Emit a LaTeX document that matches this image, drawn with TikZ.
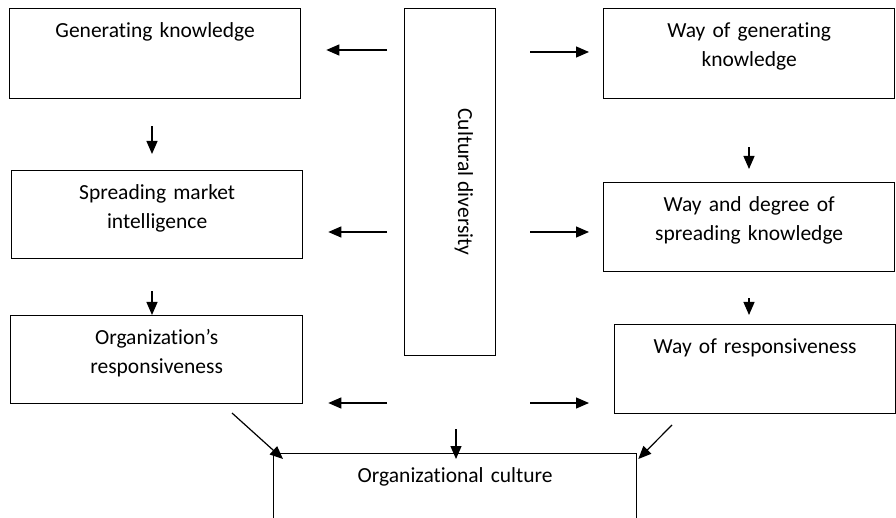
\documentclass[tikz,border=0pt]{standalone}
\usepackage{fontspec}
\setmainfont[Ligatures=NoCommon]{Carlito}
\usetikzlibrary{arrows.meta}

\tikzset{
  box/.style={draw, anchor=north west, inner sep=0pt, align=center,
    text width=#1, text height=29pt},
  arr/.style={-{Triangle[length=13pt,width=11pt]}, line width=1.2pt},
}

\begin{document}
\begin{tikzpicture}[x=1pt, y=-1pt, line width=1.3pt,
    font=\fontsize{21.5}{29}\selectfont]
      \useasboundingbox (0,0) rectangle (896,518);
      \clip (0,0) rectangle (896,518);

      % left column
      \node[box=291pt, text depth=61pt] (gen) at (9,8) {Generating knowledge};
      \node[box=291pt, text depth=59pt] (spread) at (11,170) {Spreading market\\intelligence};
      \node[box=292pt, text depth=59pt] (resp) at (10,315) {Organization’s\\responsiveness};

      % centre
      \node[draw, anchor=north west, inner sep=0pt, minimum width=91pt,
        minimum height=347pt] (cult) at (404,8) {};
      \node[rotate=-90, anchor=base] (cultlbl) at (458,182) {Cultural diversity};

      % right column
      \node[box=291pt, text depth=61pt] (wgen) at (603,8) {Way of generating\\knowledge};
      \node[box=291pt, text depth=60pt] (wdeg) at (603,182) {Way and degree of\\spreading knowledge};
      \node[box=281pt, text depth=60pt] (wresp) at (614,324) {Way of responsiveness};

      % bottom
      \node[box=363pt, text depth=80pt] (org) at (273,453) {Organizational culture};

      \draw[arr, shorten <=27pt, shorten >=16pt] (gen.south -| 152,0) -- (spread.north -| 152,0);
      \draw[arr, shorten <=32pt] (spread.south -| 152,0) -- (resp.north -| 152,0);
      \draw[arr, shorten <=48pt, shorten >=13pt] (wgen.south -| 749,0) -- (wdeg.north -| 749,0);
      \draw[arr, shorten <=26pt, shorten >=9pt] (wdeg.south -| 749,0) -- (wresp.north -| 749,0);

      \draw[arr, shorten <=17pt, shorten >=25pt] (cult.west |- 0,50) -- (gen.east |- 0,50);
      \draw[arr, shorten <=17pt, shorten >=25pt] (cult.west |- 0,232) -- (spread.east |- 0,232);
      \draw[arr, shorten <=17pt, shorten >=25pt] (cult.west |- 0,403) -- (resp.east |- 0,403);

      \draw[arr, shorten <=34pt, shorten >=14pt] (cult.east |- 0,52) -- (wgen.west |- 0,52);
      \draw[arr, shorten <=34pt, shorten >=14pt] (cult.east |- 0,232) -- (wdeg.west |- 0,232);
      \draw[arr, shorten <=34pt, shorten >=25pt] (cult.east |- 0,403) -- (wresp.west |- 0,403);

      \coordinate (dl) at (232,413);
      \coordinate (dc) at (456,429);
      \coordinate (dr) at (672,425);
      \draw[arr] (dl) -- ([shift={(10,6)}]org.north west);
      \draw[arr] (dc) -- ([yshift=-6pt]dc |- org.north);
      \draw[arr] (dr) -- ([shift={(1,6)}]org.north east);

    \end{tikzpicture}
\end{document}
